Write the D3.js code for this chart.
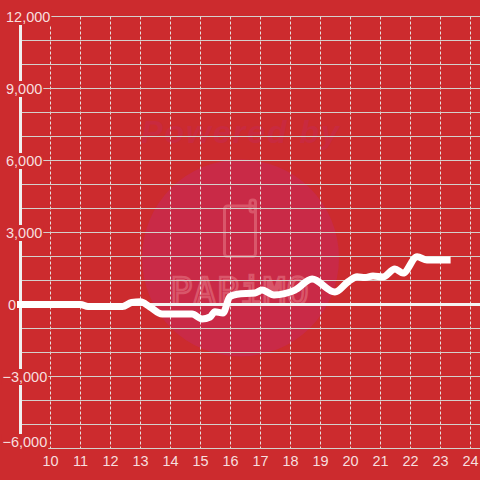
<!DOCTYPE html>
<html><head><meta charset="utf-8">
<script src="https://cdn.jsdelivr.net/npm/d3@7"></script>
<style>html,body{margin:0;padding:0;background:#cc2b2e}svg{display:block}text{font-family:"Liberation Sans",Arial,sans-serif}</style>
</head><body><svg id="c" width="480" height="480"></svg>
<script>
const hours=[9,10,11,11.25,12.4,12.7,13,13.3,13.72,14.72,15.05,15.32,15.48,15.75,15.98,16.22,16.82,17.05,17.45,18.15,18.72,19.48,19.92,20.22,20.48,20.75,21.08,21.48,21.75,22.22,22.55,23.22];
const values=[0,0,0,-85,-85,80,110,-90,-400,-400,-600,-520,-300,-350,325,430,480,600,400,600,1060,520,950,1160,1120,1190,1150,1480,1310,1990,1850,1850];
const yTicks=[12000,9000,6000,3000,0,-3000,-6000];
const gridValues=d3.range(-6000,12001,1000);
const xTicks=d3.range(10,25);
const svg=d3.select("#c");
const x=d3.scaleLinear().domain([9,24]).range([20.5,470.5]);
const y=d3.scaleLinear().domain([-6000,12000]).range([448.5,16.5]);
const bg="#cc2b2e";
svg.append("rect").attr("width",480).attr("height",480).attr("fill",bg);
// watermark
const wm=svg.append("g");
wm.append("circle").attr("cx",240.5).attr("cy",258).attr("r",98.5).attr("fill","#c92a47");
wm.append("text").attr("x",241).attr("y",143).attr("text-anchor","middle").attr("font-size",32).attr("font-weight","bold").attr("font-style","italic").attr("letter-spacing",2).attr("fill","#c92a3f").text("Powered by");
wm.append("rect").attr("x",224.5).attr("y",206).attr("width",31).attr("height",50.5).attr("rx",3).attr("fill","none").attr("stroke","#d9566a").attr("stroke-width",3);
wm.append("rect").attr("x",250).attr("y",200).attr("width",5.5).attr("height",12).attr("rx",2.5).attr("fill","none").attr("stroke","#d9566a").attr("stroke-width",3);
wm.append("text").attr("x",240).attr("y",304).attr("text-anchor","middle").attr("font-size",37).attr("letter-spacing",1).style("font-family","'DejaVu Sans Mono'").attr("fill","none").attr("stroke","#d9566a").attr("stroke-width",2.5).text("PAPiMO");
// vertical grid
svg.append("g").selectAll("line").data(xTicks).join("line").attr("x1",d=>x(d)).attr("x2",d=>x(d)).attr("y1",y(12000)).attr("y2",y(-6000)).attr("stroke","#e6dede").attr("stroke-width",1).attr("stroke-dasharray","3 2");
// horizontal grid
svg.append("g").selectAll("line").data(gridValues.filter(d=>d!==0)).join("line").attr("x1",x(9)).attr("x2",480).attr("y1",d=>y(d)).attr("y2",d=>y(d)).attr("stroke","#d4d0cc").attr("stroke-width",1);
// zero line & axis
svg.append("line").attr("x1",x(9)).attr("x2",480).attr("y1",y(0)).attr("y2",y(0)).attr("stroke","#f4f2f2").attr("stroke-width",3);
svg.append("line").attr("x1",x(9)).attr("x2",x(9)).attr("y1",y(12000)).attr("y2",y(-6000)).attr("stroke","#f0f0f0").attr("stroke-width",3);
// series
const line=d3.line().x((d,i)=>x(hours[i])).y(d=>y(d)).curve(d3.curveMonotoneX);
// y labels with background
const lab=svg.append("g").selectAll("g").data(yTicks).join("g");
const fmt=d3.format(",");
function lx(d){return d>0?6:d===0?8:2.5}
function ly(d){return d===-6000?y(d)-6.5:y(d)+0.5}
lab.append("text").attr("x",lx).attr("y",ly).attr("dy","0.35em").attr("font-size",14.5).attr("fill","#f7dfdf").text(d=>fmt(d)).each(function(d){
  const b=this.getBBox();
  d3.select(this.parentNode).insert("rect","text").attr("x",b.x-1).attr("y",ly(d)-8).attr("width",b.width+2).attr("height",16).attr("fill",bg);
});
svg.append("path").datum(values).attr("d",line).attr("fill","none").attr("stroke","#ffffff").attr("stroke-width",7).attr("stroke-linejoin","round").attr("stroke-linecap","square");
svg.append("g").selectAll("text").data(xTicks).join("text").attr("x",d=>x(d)).attr("y",461).attr("dy","0.35em").attr("text-anchor","middle").attr("font-size",14.5).attr("fill","#f7dfdf").text(d=>d);
</script></body></html>
